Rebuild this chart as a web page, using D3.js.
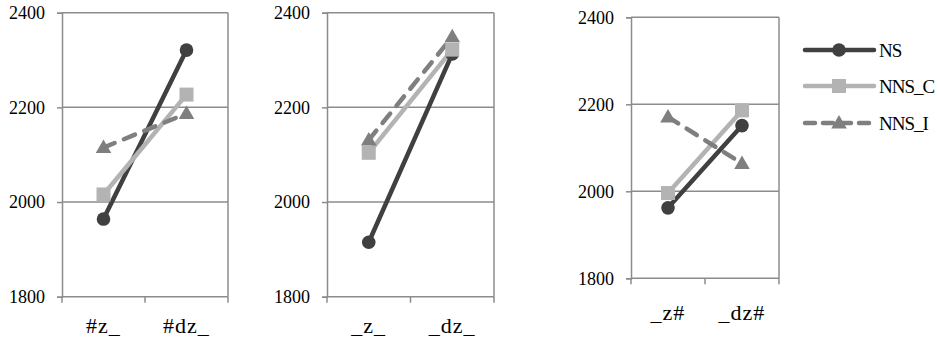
<!DOCTYPE html>
<html>
<head>
<meta charset="utf-8">
<script src="https://cdn.jsdelivr.net/npm/d3@7"></script>
<style>
  html, body { margin: 0; padding: 0; background: #fff; }
  svg { display: block; }
</style>
</head>
<body>
<svg id="chart" width="938" height="345"></svg>
<script>
// Series names shown in the legend
const seriesNames = ["NS", "NNS_C", "NNS_I"];

// Category labels of each panel
const panelCategories = [
  ["#z_", "#dz_"],
  ["_z_", "_dz_"],
  ["_z#", "_dz#"]
];

// Values per panel, one pair per series (NS, NNS_C, NNS_I)
const nsValues    = [[1964, 2321], [1915, 2313], [1962, 2151]];
const nnsCValues  = [[2016, 2227], [2104, 2322], [1996, 2186]];
const nnsIValues  = [[2115, 2187], [2131, 2349], [2171, 2064]];

// Value axis
const yTicks = [1800, 2000, 2200, 2400];

// Panel frames
const panels = [
  { x0: 62,  x1: 228, y0: 12.7, y1: 296.7, labelY: 333 },
  { x0: 327, x1: 494, y0: 12.7, y1: 296.7, labelY: 333 },
  { x0: 631, x1: 779, y0: 17.3, y1: 278.3, labelY: 320 }
];

const styles = [
  { color: "#404040", dash: null,    marker: "circle" },
  { color: "#b3b3b3", dash: null,    marker: "square" },
  { color: "#7f7f7f", dash: "12,10", marker: "triangle" }
];

const FONT = "'Liberation Serif'";
const gridColor = "#8c8c8c";
const svg = d3.select("#chart");
const allValues = [nsValues, nnsCValues, nnsIValues];

function drawMarker(g, type, x, y, color) {
  if (type === "circle") {
    g.append("circle").attr("cx", x).attr("cy", y).attr("r", 6.8).attr("fill", color);
  } else if (type === "square") {
    g.append("rect").attr("x", x - 7).attr("y", y - 7).attr("width", 14).attr("height", 14).attr("fill", color);
  } else {
    const s = d3.symbol().type(d3.symbolTriangle).size(105);
    g.append("path").attr("d", s()).attr("transform", `translate(${x},${y + 1})`).attr("fill", color);
  }
}

panels.forEach((p, i) => {
  const cats = panelCategories[i];
  const x = d3.scaleBand().domain(cats).range([p.x0, p.x1]);
  const y = d3.scaleLinear().domain([1800, 2400]).range([p.y1, p.y0]);
  const g = svg.append("g");

  // horizontal grid lines
  g.selectAll("line.grid").data(yTicks.slice(1)).join("line")
    .attr("x1", p.x0).attr("x2", p.x1)
    .attr("y1", d => y(d)).attr("y2", d => y(d))
    .attr("stroke", gridColor).attr("stroke-width", 1.5);
  // right border
  g.append("line").attr("x1", p.x1).attr("x2", p.x1).attr("y1", p.y0).attr("y2", p.y1)
    .attr("stroke", gridColor).attr("stroke-width", 1.5);

  // value axis
  const ya = g.append("g").attr("transform", `translate(${p.x0},0)`)
    .call(d3.axisLeft(y).tickValues(yTicks).tickSize(5).tickPadding(12).tickFormat(d3.format("d")));
  ya.attr("font-family", null).attr("font-size", null);
  ya.select(".domain").attr("stroke", gridColor).attr("stroke-width", 1.5);
  ya.selectAll(".tick line").attr("stroke", gridColor).attr("stroke-width", 1.5);
  ya.selectAll(".tick text")
    .style("font-family", FONT).style("font-size", "18px").style("fill", "#000");

  // category axis
  const xa = g.append("g").attr("transform", `translate(0,${p.y1})`);
  xa.append("line").attr("x1", p.x0).attr("x2", p.x1).attr("stroke", gridColor).attr("stroke-width", 1.5);
  const edges = [p.x0, p.x0 + x.bandwidth(), p.x1];
  xa.selectAll("line.t").data(edges).join("line").attr("class", "t")
    .attr("x1", d => d).attr("x2", d => d).attr("y1", 0).attr("y2", 6)
    .attr("stroke", gridColor).attr("stroke-width", 1.5);
  g.selectAll("text.cat").data(cats).join("text").attr("class", "cat")
    .attr("x", d => x(d) + x.bandwidth() / 2).attr("y", p.labelY)
    .attr("text-anchor", "middle")
    .style("font-family", FONT).style("font-size", "22px").style("letter-spacing", "1px").style("fill", "#000")
    .text(d => d);

  // series lines
  allValues.forEach((vals, s) => {
    const pts = cats.map((c, k) => [x(c) + x.bandwidth() / 2, y(vals[i][k])]);
    const path = g.append("path").attr("d", d3.line()(pts))
      .attr("fill", "none").attr("stroke", styles[s].color).attr("stroke-width", 4.5)
      .attr("stroke-linecap", "round");
    if (styles[s].dash) path.attr("stroke-dasharray", styles[s].dash);
  });
  // series markers
  allValues.forEach((vals, s) => {
    cats.forEach((c, k) => {
      drawMarker(g, styles[s].marker, x(c) + x.bandwidth() / 2, y(vals[i][k]), styles[s].color);
    });
  });
});

// legend
const legendY = [50, 86, 123];
const lg = svg.append("g");
seriesNames.forEach((name, s) => {
  const yy = legendY[s];
  const l = lg.append("line").attr("x1", 805).attr("x2", 874).attr("y1", yy).attr("y2", yy)
    .attr("stroke", styles[s].color).attr("stroke-width", 4.5).attr("stroke-linecap", "round");
  if (styles[s].dash) l.attr("stroke-dasharray", "10,8");
  drawMarker(lg, styles[s].marker, 839, yy, styles[s].color);
  lg.append("text").attr("x", 879).attr("y", yy).attr("dy", "0.35em")
    .style("font-family", FONT).style("font-size", "19px").style("letter-spacing", "-1px").style("fill", "#000")
    .text(name);
});
</script>
</body>
</html>
